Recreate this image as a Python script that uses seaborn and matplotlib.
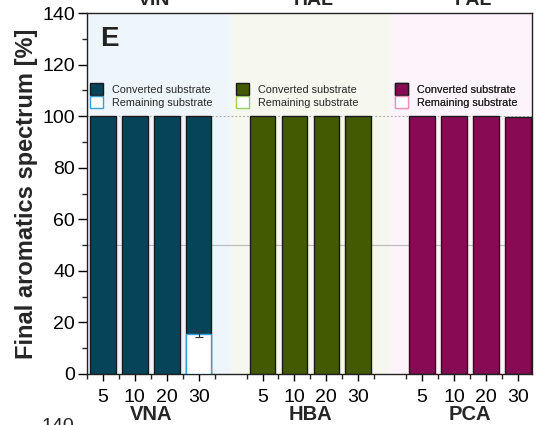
import numpy as np
import pandas as pd
import matplotlib
matplotlib.use("Agg")
import matplotlib.pyplot as plt
from matplotlib.patches import Patch
from matplotlib.ticker import FixedLocator, MultipleLocator
import seaborn as sns

# ---- data ----
groups = ["VNA", "HBA", "PCA"]
panel_titles = ["VIN", "HAL", "PAL"]
loadings = ["5", "10", "20", "30"]
converted_vna = [100.0, 100.0, 100.0, 84.5]
remaining_vna = [0.0, 0.0, 0.0, 15.5]
remaining_vna_err = [0.0, 0.0, 0.0, 1.0]
converted_hba = [100.0, 100.0, 100.0, 100.0]
remaining_hba = [0.0, 0.0, 0.0, 0.0]
converted_pca = [100.0, 100.0, 100.0, 99.7]
remaining_pca = [0.0, 0.0, 0.0, 0.0]

fill_colors = ["#06445a", "#445a00", "#880a55"]
edge_colors = ["#3b9fd6", "#9ccc5c", "#ef8fc0"]
bg_colors = ["#eef6fc", "#f6f7ee", "#fdf3fb"]

sns.set_theme(style="ticks")
plt.rcParams["font.family"] = ["Liberation Sans", "DejaVu Sans"]

# positions along the x axis for each group of bars
positions = [np.array([1, 3, 5, 7]), np.array([11, 13, 15, 17]), np.array([21, 23, 25, 27])]
bg_spans = [(0, 9), (9, 19), (19, 28)]

rows = []
conv = [converted_vna, converted_hba, converted_pca]
rem = [remaining_vna, remaining_hba, remaining_pca]
for g, pos, c, r in zip(groups, positions, conv, rem):
    for p, lab, cv, rv in zip(pos, loadings, c, r):
        rows.append({"group": g, "pos": p, "loading": lab,
                     "converted": cv, "remaining": rv, "total": cv + rv})
df = pd.DataFrame(rows)

fig = plt.figure(figsize=(5.37, 4.25), dpi=100)
ax = fig.add_axes([0.162, 0.12, 0.829, 0.8494])

for (x0, x1), bc in zip(bg_spans, bg_colors):
    ax.axvspan(x0, x1, color=bc, lw=0, zorder=0)
ax.axhline(50, color="#bdbdbd", lw=0.9, zorder=0.5)
ax.axhline(100, color="#aaaaaa", lw=0.7, ls=(0, (2, 2)), zorder=0.5)

for i, g in enumerate(groups):
    sub = df[df["group"] == g]
    sns.barplot(data=sub, x="pos", y="total", native_scale=True, width=0.8,
                color=fill_colors[i], saturation=1, edgecolor="#1a1a1a",
                linewidth=1.0, ax=ax, zorder=2)
    subr = sub[sub["remaining"] > 0]
    if len(subr):
        sns.barplot(data=subr, x="pos", y="remaining", native_scale=True,
                    width=1.6, color="white", saturation=1,
                    edgecolor=edge_colors[i], linewidth=1.0, ax=ax, zorder=3)

# error bar on the remaining fraction
err = np.array(remaining_vna_err)
mask = err > 0
ax.errorbar(positions[0][mask], np.array(remaining_vna)[mask], yerr=err[mask],
            fmt="none", ecolor="#333333", elinewidth=0.8, capsize=3,
            capthick=0.8, zorder=4)

ax.set_xlim(0, 27.9)
ax.set_ylim(0, 140)
all_pos = np.concatenate(positions)
ax.xaxis.set_major_locator(FixedLocator(all_pos))
ax.set_xticklabels(loadings * 3)
ax.xaxis.set_minor_locator(FixedLocator(np.arange(0, 28, 2)))
ax.yaxis.set_major_locator(MultipleLocator(20))
ax.yaxis.set_minor_locator(MultipleLocator(10))
ax.tick_params(axis="y", which="major", direction="out", length=6.5,
               width=1, labelsize=14, colors="black", pad=2)
ax.tick_params(axis="x", which="major", direction="out", length=5,
               width=1, labelsize=14, colors="black", pad=6)
ax.tick_params(axis="both", which="minor", direction="out", length=3.5, width=1)
ax.set_xlabel("")
ax.set_ylabel("Final aromatics spectrum [%]", fontsize=17, fontweight="bold",
              labelpad=3)
for s in ax.spines.values():
    s.set_visible(True)
    s.set_color("#222222")
    s.set_linewidth(1.0)

for g, pos in zip(groups, positions):
    ax.text(pos.mean(), -0.128, g, transform=ax.get_xaxis_transform(),
            ha="center", va="baseline", fontsize=14.5, fontweight="bold")

ax.text(0.03, 0.965, "E", transform=ax.transAxes, ha="left", va="top",
        fontsize=20, fontweight="bold", color="#222222")

legend_x = [0.007, 0.335, 0.692]
for i in range(3):
    handles = [Patch(facecolor=fill_colors[i], edgecolor="#1a1a1a", lw=1.0),
               Patch(facecolor="white", edgecolor=edge_colors[i], lw=1.0)]
    leg = ax.legend(handles, ["Converted substrate", "Remaining substrate"],
                    loc="upper left", bbox_to_anchor=(legend_x[i], 0.805),
                    frameon=False, fontsize=7.8, handlelength=1.15,
                    handleheight=1.3, handletextpad=0.9, labelspacing=0.1,
                    borderpad=0, borderaxespad=0)
    ax.add_artist(leg)

# panel titles above the axes
for t, pos in zip(panel_titles, positions):
    xd = ax.transData.transform((pos.mean(), 0))[0]
    xf = fig.transFigure.inverted().transform((xd, 0))[0]
    fig.text(xf + 0.006, 0.988, t, ha="center", va="baseline", fontsize=14,
             fontweight="bold")

fig.text(0.107, 0.0165, "140", ha="center", va="top", fontsize=14)

fig.savefig("out.png", dpi=100)
